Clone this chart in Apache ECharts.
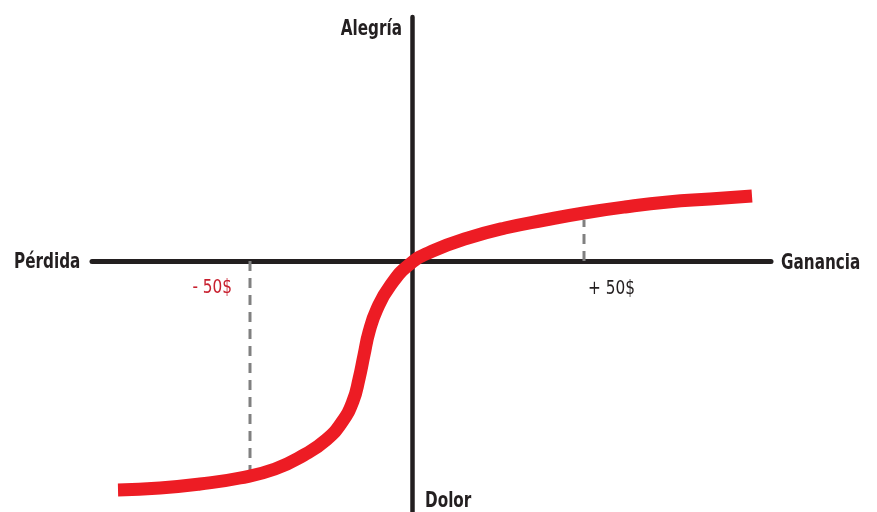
<!DOCTYPE html>
<html lang="es">
<head>
    <meta charset="UTF-8">
    <title>Curva de valor</title>
    <script src="https://cdn.jsdelivr.net/npm/echarts@6/dist/echarts.min.js"></script>
    <style>
        body { margin: 0; background: #fff; }
        #chart { width: 877px; height: 512px; }
    </style>
</head>
<body>
    <div id="chart"></div>
    <script>
        // curva de valor (ganancia/pérdida -> alegría/dolor), origen en (0,0)
        const curveX = [-294, -252, -212, -172, -137, -108, -86, -70, -59, -53, -48, -43, -35, -22, -2, 23, 56, 93, 133, 172, 213, 256, 298, 340];
        const curveY = [-229, -227, -223, -217, -208, -194, -179, -161, -140, -118, -94, -71, -48, -25, -3, 11, 23, 33, 41, 48, 54, 59, 62, 65];
        // líneas de referencia en -50$ y +50$
        const lossX = -162, lossY = -210;
        const gainX = 172, gainY = 41;
        const lossLabel = '- 50$';
        const gainLabel = '+ 50$';

        const chart = echarts.init(document.getElementById('chart'));
        const fam = '"DejaVu Sans Condensed", "DejaVu Sans", sans-serif';
        const boldFont = { fontFamily: fam, fontWeight: 'bold', fontSize: 22, fill: '#231F20', verticalAlign: 'middle' };
        const thinFont = { fontFamily: fam, fontSize: 20, verticalAlign: 'middle' };

        chart.setOption({
            animation: false,
            grid: { left: 92, right: 106, top: 17, bottom: 0 },
            xAxis: {
                type: 'value', min: -320, max: 359,
                axisLine: { onZero: true, lineStyle: { color: '#231F20', width: 5 } },
                axisTick: { show: false }, axisLabel: { show: false }, splitLine: { show: false }
            },
            yAxis: {
                type: 'value', min: -251, max: 244,
                axisLine: { show: true, onZero: true, lineStyle: { color: '#231F20', width: 4.5 } },
                axisTick: { show: false }, axisLabel: { show: false }, splitLine: { show: false }
            },
            series: [
                {
                    type: 'line', symbol: 'none', silent: true,
                    data: [[lossX, 0], [lossX, lossY]],
                    lineStyle: { color: '#808080', width: 3, type: [10, 7] }
                },
                {
                    type: 'line', symbol: 'none', silent: true,
                    data: [[gainX, 0], [gainX, gainY]],
                    lineStyle: { color: '#808080', width: 3, type: [10, 7] }
                },
                {
                    type: 'line', symbol: 'none', smooth: 0.5, silent: true,
                    data: curveX.map((x, i) => [x, curveY[i]]),
                    lineStyle: { color: '#ED1C24', width: 13, cap: 'butt' }
                }
            ],
            graphic: [
                { type: 'text', x: 402, y: 29, scaleX: 0.77, style: { text: 'Alegría', align: 'right', ...boldFont } },
                { type: 'text', x: 14, y: 262, scaleX: 0.77, style: { text: 'Pérdida', align: 'left', ...boldFont } },
                { type: 'text', x: 781, y: 263, scaleX: 0.77, style: { text: 'Ganancia', align: 'left', ...boldFont } },
                { type: 'text', x: 425, y: 501, scaleX: 0.77, style: { text: 'Dolor', align: 'left', ...boldFont } },
                { type: 'text', x: 232, y: 288, scaleX: 0.85, style: { text: lossLabel, align: 'right', fill: '#C8202F', ...thinFont } },
                { type: 'text', x: 588, y: 289, scaleX: 0.85, style: { text: gainLabel, align: 'left', fill: '#231F20', ...thinFont } }
            ]
        });
    </script>
</body>
</html>
